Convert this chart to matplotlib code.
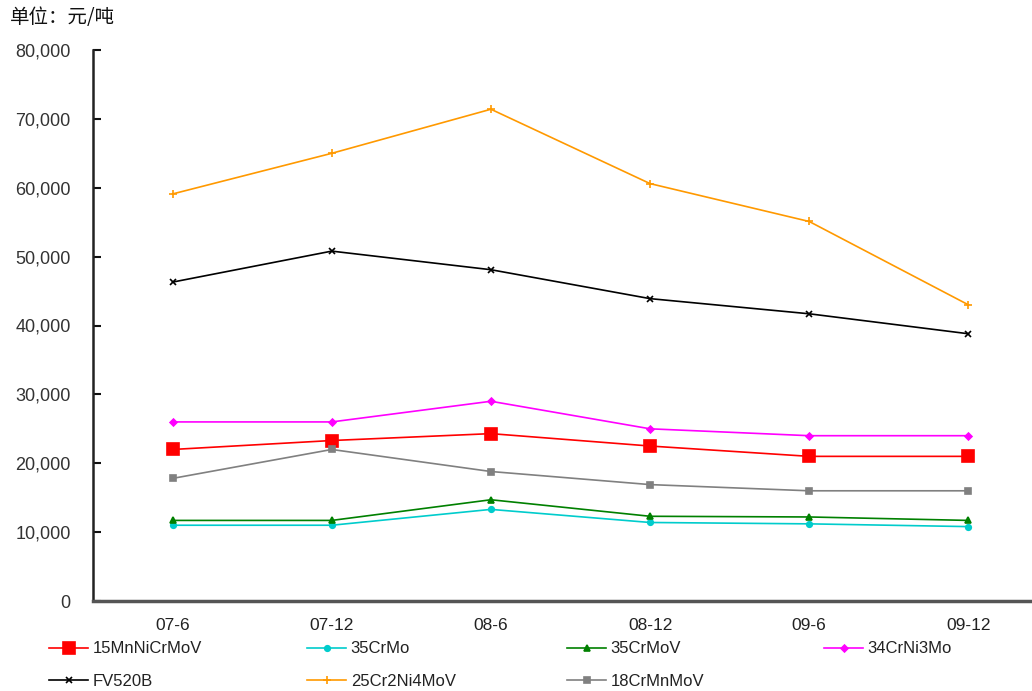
import matplotlib
matplotlib.use("Agg")
import matplotlib.pyplot as plt
from matplotlib.ticker import FuncFormatter, MultipleLocator

plt.rcParams['font.family'] = ['Liberation Sans', 'Noto Sans CJK SC', 'DejaVu Sans']

categories = ["07-6", "07-12", "08-6", "08-12", "09-6", "09-12"]
s_15MnNiCrMoV = [22000, 23300, 24300, 22500, 21000, 21000]
s_35CrMo = [11000, 11000, 13300, 11400, 11200, 10800]
s_35CrMoV = [11700, 11700, 14700, 12300, 12200, 11700]
s_34CrNi3Mo = [26000, 26000, 29000, 25000, 24000, 24000]
s_FV520B = [46300, 50800, 48100, 43900, 41700, 38800]
s_25Cr2Ni4MoV = [59100, 65000, 71400, 60600, 55100, 43000]
s_18CrMnMoV = [17800, 22000, 18800, 16900, 16000, 16000]
unit_label = "单位：元/吨"

W, H = 1032, 691
fig = plt.figure(figsize=(W / 100, H / 100), dpi=100)
left, right, bottom, top = 93, 1048, 601, 50
ax = fig.add_axes([left / W, (H - bottom) / H, (right - left) / W, (bottom - top) / H])

x = list(range(len(categories)))
series = [
    ("15MnNiCrMoV", s_15MnNiCrMoV, "#ff0000", "s", 9, 1.2),
    ("35CrMo", s_35CrMo, "#00cccc", "o", 4, 1.2),
    ("35CrMoV", s_35CrMoV, "#008000", "^", 4, 1.2),
    ("34CrNi3Mo", s_34CrNi3Mo, "#ff00ff", "D", 3.5, 1.2),
    ("FV520B", s_FV520B, "#000000", "x", 5, 1.2),
    ("25Cr2Ni4MoV", s_25Cr2Ni4MoV, "#ff9900", "+", 6, 1.2),
    ("18CrMnMoV", s_18CrMnMoV, "#808080", "s", 5, 1.2),
]
handles = {}
for name, vals, col, mk, ms, lw in series:
    h, = ax.plot(x, vals, color=col, marker=mk, markersize=ms, linewidth=lw,
                 markeredgewidth=1.2, label=name, clip_on=False)
    handles[name] = h

ax.set_xlim(-0.5, len(categories) - 0.5)
ax.set_ylim(0, 80000)
ax.yaxis.set_major_locator(MultipleLocator(10000))
ax.yaxis.set_major_formatter(FuncFormatter(lambda v, p: "0" if v == 0 else f"{int(v):,}"))
ax.set_xticks(x)
ax.set_xticklabels(categories)
ax.tick_params(axis='x', length=0, pad=12, labelsize=12.5, colors='#222222')
ax.tick_params(axis='y', direction='in', length=6, width=1.5, pad=16, labelsize=13,
               colors='#111111', labelcolor='#333333')
for s in ['top', 'right']:
    ax.spines[s].set_visible(False)
ax.spines['left'].set_linewidth(1.8)
ax.spines['left'].set_color('#222222')
ax.spines['bottom'].set_linewidth(2.5)
ax.spines['bottom'].set_color('#555555')

fig.text(10 / W, 1 - 18 / H, unit_label, fontsize=14, va='center', ha='left',
         family=['Noto Sans CJK SC', 'DejaVu Sans'], color='#111111')

cols = [
    (50, ["15MnNiCrMoV", "FV520B"]),
    (308, ["35CrMo", "25Cr2Ni4MoV"]),
    (568, ["35CrMoV", "18CrMnMoV"]),
    (825, ["34CrNi3Mo"]),
]
for xpx, names in cols:
    leg = fig.legend([handles[n] for n in names], names, loc='upper left',
                     bbox_to_anchor=((xpx - 4) / W, 1 - 638 / H), frameon=False,
                     fontsize=12, handlelength=2.3, handletextpad=0.3,
                     labelspacing=1.05, borderaxespad=0, borderpad=0.2)
    for t in leg.get_texts():
        t.set_color('#222222')

fig.savefig("out.png", dpi=100)
